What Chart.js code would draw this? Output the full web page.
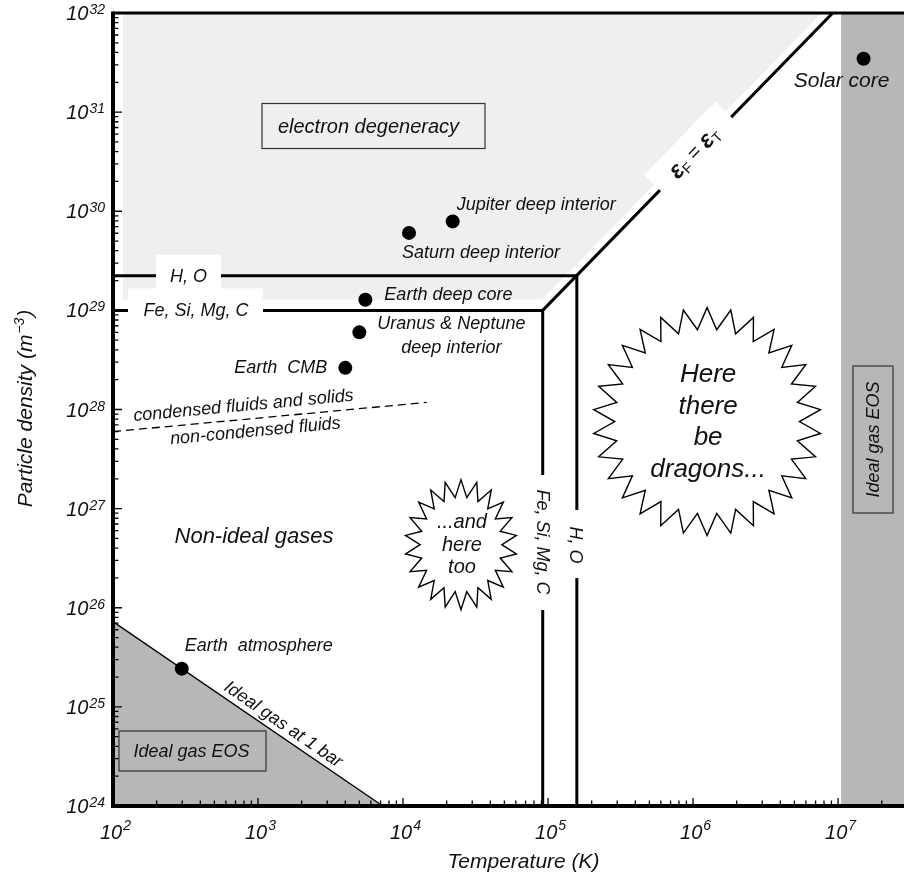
<!DOCTYPE html>
<html lang="en">
<head>
<meta charset="UTF-8">
<title>Density-temperature regimes</title>
<script src="https://cdn.jsdelivr.net/npm/chart.js"></script>
<style>
  html, body { margin: 0; padding: 0; background: #fff; }
  canvas { display: block; }
</style>
</head>
<body>
<canvas id="regimes" width="904" height="876"></canvas>
<script>
// marked bodies: temperature (K) and particle density (m^-3)
const bodyNames = ['Solar core', 'Jupiter deep interior', 'Saturn deep interior', 'Earth deep core',
                   'Uranus & Neptune\ndeep interior', 'Earth  CMB', 'Earth  atmosphere'];
const bodyTemps = [1.5e7, 2.2e4, 1.1e4, 5.5e3, 5.0e3, 4.0e3, 298];
const bodyDensities = [3.45e31, 7.9e29, 6.05e29, 1.28e29, 6.0e28, 2.63e28, 2.43e25];

// boundaries
const hoT = [100, 1.58e5, 1.58e5];        // H, O
const hoN = [2.24e29, 2.24e29, 1e24];
const feT = [100, 9.19e4, 9.19e4];        // Fe, Si, Mg, C
const feN = [1e29, 1e29, 1e24];
const fermiT = [9.19e4, 9.19e6];          // eps_F = eps_T
const fermiN = [1e29, 1e32];
const condT = [100, 1.457e4];             // condensed / non-condensed
const condN = [5.98e27, 1.18e28];
const barT = [100, 7250];                 // ideal gas at 1 bar
const barN = [7.25e25, 1e24];

// shaded regions
const degT = [117, 9.12e4, 7.72e6];       // electron degeneracy (filled to top)
const degN = [1.285e29, 1.285e29, 1e32];
const hotT = [1.05e7, 2.85e7];            // hot ideal gas band (filled to bottom)
const hotN = [1e32, 1e32];

// axes
const tMin = 100, tMax = 2.85e7;
const nMin = 1e24, nMax = 1e32;
const xTickExps = [2, 3, 4, 5, 6, 7];
const yTickExps = [24, 25, 26, 27, 28, 29, 30, 31, 32];

const FONT = '"Liberation Sans", Arial, Helvetica, sans-serif';
const LIGHT = '#efefef';
const DARK = '#b7b7b7';
const INK = '#111';

const xy = (T, N) => T.map((t, i) => ({ x: t, y: N[i] }));
const font = (px, w) => (w ? w + ' ' : '') + 'italic ' + px + 'px ' + FONT;

function boundary(T, N, extra) {
  return Object.assign({
    data: xy(T, N), borderColor: '#000', borderWidth: 3, pointRadius: 0,
    fill: false, tension: 0, order: 1, borderJoinStyle: 'miter'
  }, extra);
}

function label(ctx, str, x, y, size, align) {
  ctx.font = font(size);
  ctx.textAlign = align || 'center';
  ctx.textBaseline = 'middle';
  ctx.fillStyle = INK;
  ctx.fillText(str, x, y);
}

function boxLabel(ctx, str, cx, cy, w, h, size, fill, rot, tdx) {
  ctx.save();
  ctx.translate(cx, cy);
  if (rot) ctx.rotate(rot);
  ctx.fillStyle = fill;
  ctx.fillRect(-w / 2, -h / 2, w, h);
  ctx.strokeStyle = '#333';
  ctx.lineWidth = 1.2;
  ctx.strokeRect(-w / 2, -h / 2, w, h);
  label(ctx, str, tdx || 0, 1, size);
  ctx.restore();
}

function star(ctx, cx, cy, rx, ry, n, depth) {
  ctx.beginPath();
  for (let i = 0; i < 2 * n; i++) {
    const a = -Math.PI / 2 + i * Math.PI / n;
    const f = i % 2 ? 1 - depth : 1;
    ctx.lineTo(cx + rx * f * Math.cos(a), cy + ry * f * Math.sin(a));
  }
  ctx.closePath();
  ctx.fillStyle = '#fff';
  ctx.fill();
  ctx.lineWidth = 1.4;
  ctx.strokeStyle = '#000';
  ctx.lineJoin = 'miter';
  ctx.stroke();
}

// "10" with a raised exponent
function power(ctx, exp, x, y, align, raise) {
  ctx.font = font(20);
  const wb = ctx.measureText('10').width;
  ctx.font = font(14);
  const we = ctx.measureText(String(exp)).width;
  const left = align === 'right' ? x - wb - we : x - (wb + we) / 2;
  ctx.textAlign = 'left';
  ctx.textBaseline = 'alphabetic';
  ctx.fillStyle = INK;
  ctx.font = font(20);
  ctx.fillText('10', left, y);
  ctx.font = font(14);
  ctx.fillText(String(exp), left + wb + 1, y - raise);
}

// point on a two-point line, as a fraction of its pixel length
function along(p1, p2, f) {
  return { x: p1.x + (p2.x - p1.x) * f, y: p1.y + (p2.y - p1.y) * f,
           a: Math.atan2(p2.y - p1.y, p2.x - p1.x) };
}

const bodyLabelPos = [
  { dx: -22, dy: 22, align: 'center', size: 21 },
  { dx: 4, dy: -16, align: 'left', size: 18 },
  { dx: -7, dy: 20, align: 'left', size: 18 },
  { dx: 19, dy: -5, align: 'left', size: 18 },
  { dx: 92, dy: -8, align: 'center', size: 18 },
  { dx: -18, dy: 0, align: 'right', size: 18 },
  { dx: 3, dy: -23, align: 'left', size: 18 }
];

const decor = {
  id: 'decor',
  afterDatasetsDraw(chart) {
    const { ctx, chartArea: a, scales: { x, y } } = chart;
    const P = (t, n) => ({ x: x.getPixelForValue(t), y: y.getPixelForValue(n) });
    ctx.save();

    // labels sitting on the H, O and Fe, Si, Mg, C boundaries
    const yHO = P(100, hoN[0]).y, yFe = P(100, feN[0]).y;
    const xHO = P(hoT[1], 1e24).x, xFe = P(feT[1], 1e24).x;
    ctx.fillStyle = '#fff';
    ctx.fillRect(156, yHO - 21, 65, 38);
    ctx.fillRect(128, yFe - 22, 135, 44);
    ctx.fillRect(xFe - 12, 475, 24, 135);
    ctx.fillRect(xHO - 12, 510, 24, 68);
    label(ctx, 'H, O', 188.5, yHO + 1, 18);
    label(ctx, 'Fe, Si, Mg, C', 196, yFe + 1, 18);
    ctx.save(); ctx.translate(xFe - 1, 542); ctx.rotate(Math.PI / 2);
    label(ctx, 'Fe, Si, Mg, C', 0, 0, 18); ctx.restore();
    ctx.save(); ctx.translate(xHO - 2, 545); ctx.rotate(Math.PI / 2);
    label(ctx, 'H, O', 0, 0, 18); ctx.restore();

    // eps_F = eps_T on the degeneracy line
    const e = along(P(fermiT[0], fermiN[0]), P(fermiT[1], fermiN[1]), 0.527);
    ctx.save();
    ctx.translate(e.x, e.y); ctx.rotate(e.a);
    ctx.fillStyle = '#fff';
    ctx.fillRect(-51, -22, 102, 42);
    const parts = [['\u03b5', font(24, 'bold'), 0], ['F', '14px ' + FONT, 6], [' = ', '20px ' + FONT, 0],
                   ['\u03b5', font(24, 'bold'), 0], ['T', '14px ' + FONT, 6]];
    let w = 0;
    parts.forEach(p => { ctx.font = p[1]; p.push(ctx.measureText(p[0]).width); w += p[3]; });
    let cx = -w / 2;
    ctx.textAlign = 'left'; ctx.textBaseline = 'middle'; ctx.fillStyle = INK;
    parts.forEach(p => { ctx.font = p[1]; ctx.fillText(p[0], cx, -1 + p[2]); cx += p[3]; });
    ctx.restore();

    // ideal gas at 1 bar
    const b = along(P(barT[0], barN[0]), P(barT[1], barN[1]), 0.608);
    ctx.save(); ctx.translate(b.x, b.y); ctx.rotate(b.a);
    label(ctx, 'Ideal gas at 1 bar', 0, -11, 18); ctx.restore();

    // condensation line labels
    const c1 = along(P(condT[0], condN[0]), P(condT[1], condN[1]), 0.42);
    ctx.save(); ctx.translate(c1.x, c1.y); ctx.rotate(c1.a);
    label(ctx, 'condensed fluids and solids', 0, -13.5, 18); ctx.restore();
    const c2 = along(P(condT[0], condN[0]), P(condT[1], condN[1]), 0.45);
    ctx.save(); ctx.translate(c2.x, c2.y); ctx.rotate(c2.a);
    label(ctx, 'non-condensed fluids', 0, 13, 18); ctx.restore();

    // region boxes
    boxLabel(ctx, 'electron degeneracy', 373.5, 126, 223, 45, 20, LIGHT, 0, -5);
    boxLabel(ctx, 'Ideal gas EOS', 192.5, 751, 147, 40, 18, DARK, 0, -1);
    boxLabel(ctx, 'Ideal gas EOS', 873, 439.5, 147, 40, 18, DARK, -Math.PI / 2);
    label(ctx, 'Non-ideal gases', 254, 537, 22);

    // stars
    const s1 = P(1.25e6, 7.55e27);
    star(ctx, s1.x, s1.y, 114, 114, 30, 0.19);
    ['Here', 'there', 'be', 'dragons...'].forEach((t, i) => label(ctx, t, s1.x + 1, s1.y - 47 + i * 31.7, 26));
    const s2 = P(2.51e4, 4.33e26);
    star(ctx, s2.x, s2.y, 56, 65, 22, 0.27);
    ['...and', 'here', 'too'].forEach((t, i) => label(ctx, t, s2.x + 1, s2.y - 22 + i * 22.5, 20));

    // body labels
    bodyNames.forEach((name, i) => {
      const p = P(bodyTemps[i], bodyDensities[i]), o = bodyLabelPos[i];
      name.split('\n').forEach((line, j) => label(ctx, line, p.x + o.dx, p.y + o.dy + j * 24, o.size, o.align));
    });

    // frame and inward ticks
    ctx.strokeStyle = '#000';
    ctx.lineCap = 'butt';
    ctx.lineWidth = 1.3;
    ctx.beginPath();
    for (let d = 24; d < 32; d++) {
      for (let k = 1; k <= 9; k++) {
        const py = y.getPixelForValue(k * Math.pow(10, d));
        ctx.moveTo(a.left, py); ctx.lineTo(a.left + (k === 1 ? 9 : 5.5), py);
      }
    }
    for (let d = 2; d <= 7; d++) {
      for (let k = 1; k <= 9; k++) {
        const v = k * Math.pow(10, d);
        if (v > tMax) break;
        const px = x.getPixelForValue(v);
        ctx.moveTo(px, a.bottom); ctx.lineTo(px, a.bottom - (k === 1 ? 8 : 5.5));
      }
    }
    ctx.stroke();
    ctx.lineWidth = 3;
    ctx.beginPath();
    ctx.moveTo(a.right, a.top); ctx.lineTo(a.left, a.top);
    ctx.stroke();
    ctx.lineWidth = 4;
    ctx.beginPath();
    ctx.moveTo(a.left, a.top - 1.5);
    ctx.lineTo(a.left, a.bottom); ctx.lineTo(a.right, a.bottom);
    ctx.stroke();

    // tick labels
    yTickExps.forEach(d => power(ctx, d, 104, y.getPixelForValue(Math.pow(10, d)) + 7, 'right', 6));
    xTickExps.forEach(d => power(ctx, d, x.getPixelForValue(Math.pow(10, d)) + 2, 839, 'center', 9));

    // axis titles
    label(ctx, 'Temperature (K)', 523.5, 862, 21);
    ctx.save();
    ctx.translate(25, (a.top + a.bottom) / 2);
    ctx.rotate(-Math.PI / 2);
    ctx.font = font(21);
    const t1 = 'Particle density (m', t3 = ')';
    const w1 = ctx.measureText(t1).width, w3 = ctx.measureText(t3).width;
    ctx.font = font(14);
    const w2 = ctx.measureText('\u22123').width;
    let lx = -(w1 + w2 + w3) / 2;
    ctx.textAlign = 'left'; ctx.textBaseline = 'alphabetic'; ctx.fillStyle = INK;
    ctx.font = font(21); ctx.fillText(t1, lx, 7); lx += w1;
    ctx.font = font(14); ctx.fillText('\u22123', lx + 1, -1); lx += w2 + 2;
    ctx.font = font(21); ctx.fillText(t3, lx, 7);
    ctx.restore();

    ctx.restore();
  }
};

new Chart(document.getElementById('regimes'), {
  type: 'line',
  data: {
    datasets: [
      {
        data: xy(bodyTemps, bodyDensities), showLine: false, pointRadius: 7,
        pointBackgroundColor: '#000', pointBorderWidth: 0, order: 0
      },
      boundary(hoT, hoN),
      boundary(feT, feN),
      boundary(fermiT, fermiN),
      boundary(condT, condN, { borderWidth: 1.3, borderDash: [8, 5] }),
      boundary(barT, barN, { borderWidth: 1.3, fill: 'start', backgroundColor: DARK, order: 2 }),
      boundary(degT, degN, { borderWidth: 0, fill: 'end', backgroundColor: LIGHT, order: 3 }),
      boundary(hotT, hotN, { borderWidth: 0, fill: 'start', backgroundColor: DARK, order: 3 })
    ]
  },
  options: {
    responsive: false,
    animation: false,
    devicePixelRatio: 1,
    layout: { autoPadding: false, padding: { top: 13, right: 0, bottom: 0, left: 0 } },
    plugins: { legend: { display: false }, tooltip: { enabled: false } },
    scales: {
      x: {
        type: 'logarithmic', min: tMin, max: tMax,
        ticks: { display: false }, grid: { display: false }, border: { display: false },
        afterFit(s) { s.height = 70; }
      },
      y: {
        type: 'logarithmic', min: nMin, max: nMax,
        ticks: { display: false }, grid: { display: false }, border: { display: false },
        afterFit(s) { s.width = 113; }
      }
    }
  },
  plugins: [decor]
});
</script>
</body>
</html>
